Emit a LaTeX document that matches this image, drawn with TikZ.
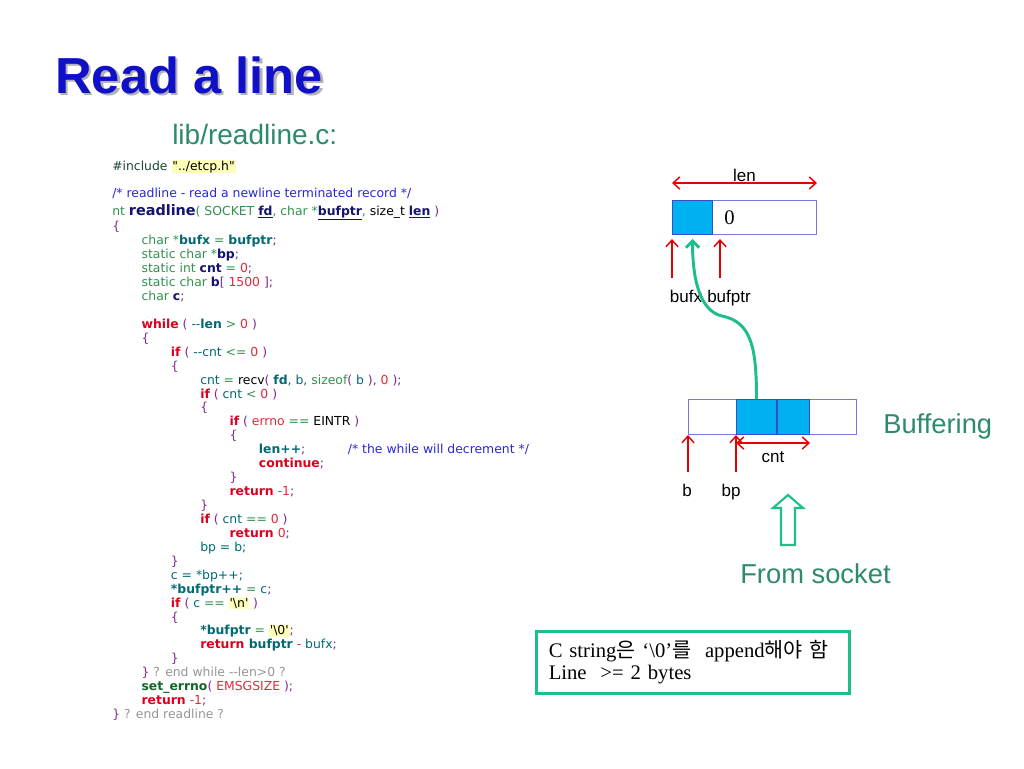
\documentclass[tikz,border=0pt]{standalone}
\usepackage{fontspec}
\usetikzlibrary{positioning, arrows.meta}
\newfontfamily\arialfont{Liberation Sans}
\newfontfamily\timesfont{Liberation Serif}
\newfontfamily\codefont{DejaVu Sans}
\newfontfamily\krfont{Noto Sans CJK KR}

\definecolor{titleblue}{RGB}{16,16,200}
\definecolor{libgreen}{RGB}{46,139,106}
\definecolor{cellblue}{RGB}{0,176,240}
\definecolor{celledge}{RGB}{48,80,200}
\definecolor{bufedge}{RGB}{120,120,220}
\definecolor{arrred}{RGB}{230,0,0}
\definecolor{mint}{RGB}{30,190,140}
\definecolor{ckwcol}{RGB}{220,0,30}
\definecolor{cvarcol}{RGB}{0,105,115}
\definecolor{cnavcol}{RGB}{20,20,110}
\definecolor{ctycol}{RGB}{50,145,80}
\definecolor{cpuncol}{RGB}{130,40,140}
\definecolor{cnumcol}{RGB}{230,40,60}
\definecolor{ccomcol}{RGB}{40,40,220}
\definecolor{cgraycol}{RGB}{150,150,150}
\definecolor{cincol}{RGB}{30,70,50}
\definecolor{csetcol}{RGB}{20,100,40}
\definecolor{hlyellow}{RGB}{255,255,185}

\newlength\codeindent
\setlength\codeindent{22pt}
\newcommand\lv[1]{\hspace*{#1\codeindent}}
\newcommand\ckw[1]{\textcolor{ckwcol}{\relax\bfseries #1}}
\newcommand\cvar[1]{\textcolor{cvarcol}{\relax\bfseries #1}}
\newcommand\cnav[1]{\textcolor{cnavcol}{\relax\bfseries #1}}
\newcommand\cty[1]{\textcolor{ctycol}{\relax#1}}
\newcommand\cid[1]{\textcolor{cvarcol}{\relax#1}}
\newcommand\cpun[1]{\textcolor{cpuncol}{\relax#1}}
\newcommand\cnum[1]{\textcolor{cnumcol}{\relax#1}}
\newcommand\ccom[1]{\textcolor{ccomcol}{\relax#1}}
\newcommand\cgray[1]{\textcolor{cgraycol}{\relax#1}}
\newcommand\chl[1]{{\setlength\fboxsep{0.6pt}\colorbox{hlyellow}{#1}}}

\begin{document}
\begin{tikzpicture}[x=0.75pt, y=-0.75pt,
    >={Straight Barb[length=5pt,width=9pt]},
    titletext/.style={anchor=base west, inner sep=0, font=\arialfont\bfseries\fontsize{38}{44}\selectfont},
    codeline/.style={anchor=base west, inner sep=0, font=\codefont\fontsize{9.3}{10.455}\selectfont},
    code/.style={inner sep=0, align=left, font=\codefont\fontsize{9.3}{10.455}\selectfont},
    buf/.style={draw=bufedge, line width=0.75pt, fill=white, inner sep=0},
    cell/.style={draw=celledge, line width=0.75pt, fill=cellblue, inner sep=0},
    lbl/.style={inner sep=0, font=\arialfont\fontsize{12.75}{15}\selectfont},
    greenlbl/.style={anchor=base west, inner sep=0, text=libgreen, font=\arialfont\fontsize{20.5}{24}\selectfont},
    redarr/.style={draw=arrred, line width=1.1pt},
    greenarr/.style={draw=mint, line width=2.2pt, -{Straight Barb[length=5pt,width=10pt]}},
    hollow/.style={draw=mint, line width=1.6pt, fill=white, line join=miter},
    notebox/.style={draw=mint, line width=1.9pt, minimum width=234.75pt, minimum height=46.5pt,
      text width=216pt, inner xsep=9pt, align=left, font=\timesfont\fontsize{15.5}{16.5}\selectfont}]
\fill[white] (0,0) rectangle (1024,768);
\useasboundingbox (0,0) rectangle (1024,768);

% title
\node[titletext, text=gray!60] (titleshadow) at (57.5,95.5) {Read a line};
\node[titletext, text=titleblue] (title) at (55,93) {Read a line};
\node[anchor=base west, inner sep=0, text=libgreen, font=\arialfont\fontsize{21}{24}\selectfont] (libname) at (172,144) {lib/readline.c:};

% source listing
\node[codeline] (inc) at (112,170) {\textcolor{cincol}{\#include} \chl{"../etcp.h"}};
\node[codeline] (cmt) at (112,197) {\ccom{/* readline - read a newline terminated record */}};
\node[codeline] (sig) at (112,215) {\cty{nt }\cnav{\fontsize{10.8}{12}\selectfont readline}\cty{( SOCKET }\cnav{\underline{fd}}\cty{, char *}\cnav{\underline{bufptr}}\cty{, }size\_t \cnav{\underline{len}}\cpun{ )}};
\node[code, anchor=north west] (body) at (112,220.7) {\strut\cpun{\{}\\
\lv1\cty{char *}\cvar{bufx}\cty{ = }\cvar{bufptr}\cpun{;}\\
\lv1\cty{static char *}\cnav{bp}\cpun{;}\\
\lv1\cty{static int }\cnav{cnt}\cty{ = }\cnum{0}\cpun{;}\\
\lv1\cty{static char }\cnav{b}\cpun{[ }\cnum{1500}\cpun{ ];}\\
\lv1\cty{char }\cnav{c}\cpun{;}\\[10.45pt]
\lv1\ckw{while}\cpun{ ( }\cid{-{}-}\cvar{len}\cty{ > }\cnum{0}\cpun{ )}\\
\lv1\cpun{\{}\\
\lv2\ckw{if}\cpun{ ( }\cid{-{}-cnt}\cty{ <= }\cnum{0}\cpun{ )}\\
\lv2\cpun{\{}\\
\lv3\cid{cnt}\cty{ = }recv\cpun{( }\cvar{fd}\cid{, b, }\cty{sizeof}\cpun{( }\cid{b}\cpun{ ), }\cnum{0}\cpun{ );}\\
\lv3\ckw{if}\cpun{ ( }\cid{cnt}\cty{ < }\cnum{0}\cpun{ )}\\
\lv3\cpun{\{}\\
\lv4\ckw{if}\cpun{ ( }\cnum{errno}\cty{ == }EINTR\cpun{ )}\\
\lv4\cpun{\{}\\
\lv5\makebox[66.75pt][l]{\cvar{len++}\cpun{;}}\ccom{/* the while will decrement */}\\
\lv5\ckw{continue}\cpun{;}\\
\lv4\cpun{\}}\\
\lv4\ckw{return}\cnum{ -1}\cpun{;}\\
\lv3\cpun{\}}\\
\lv3\ckw{if}\cpun{ ( }\cid{cnt}\cty{ == }\cnum{0}\cpun{ )}\\
\lv4\ckw{return}\cnum{ 0}\cpun{;}\\
\lv3\cid{bp = b;}\\
\lv2\cpun{\}}\\
\lv2\cid{c = *bp++;}\\
\lv2\cvar{*bufptr++}\cty{ = }\cid{c}\cpun{;}\\
\lv2\ckw{if}\cpun{ ( }\cid{c}\cty{ == }\chl{'\textbackslash n'}\cpun{ )}\\
\lv2\cpun{\{}\\
\lv3\cvar{*bufptr}\cty{ = }\chl{'\textbackslash 0'}\cpun{;}\\
\lv3\ckw{return }\cvar{bufptr}\cnum{ - }\cid{bufx}\cpun{;}\\
\lv2\cpun{\}}\\
\lv1\cpun{\}}\cgray{ ? end while -{}-len>0 ?}\\
\lv1\textcolor{csetcol}{\bfseries set\_errno}\cpun{( }\cnum{EMSGSIZE}\cpun{ );}\\
\lv1\ckw{return}\cnum{ -1}\cpun{;}\\
\cpun{\}}\cgray{ ? end readline ?}};

% line buffer
\node[buf, minimum width=108pt, minimum height=25.5pt, anchor=north west] (linebuf) at (672,200) {};
\node[cell, minimum width=30pt, minimum height=25.5pt, anchor=north west] (linecell) at (linebuf.north west) {};
\node[right=8.25pt of linecell, inner sep=0, font=\timesfont\fontsize{15.5}{18}\selectfont] (zero) {0};
\draw[redarr, <->] ([yshift=12.75pt]linebuf.north west) -- ([yshift=12.75pt]linebuf.north east)
    node[lbl, midway, above=0.5pt] (lenlabel) {len};
\coordinate (bufxtail) at (672,278);
\coordinate (bufptrtail) at (720,278);
\draw[redarr, ->, shorten >=3pt] (bufxtail) -- (linebuf.south west);
\draw[redarr, ->, shorten >=3pt] (bufptrtail) -- (bufptrtail |- linebuf.south);
\node[lbl, anchor=base] (bufxlabel) at (686,302) {bufx};
\node[lbl, anchor=base] (bufptrlabel) at (729,302) {bufptr};

% socket buffer
\node[buf, minimum width=126pt, minimum height=26.25pt, anchor=north west] (sockbuf) at (688,399) {};
\node[cell, minimum width=30pt, minimum height=26.25pt, anchor=north west] (cella) at ([xshift=36pt]sockbuf.north west) {};
\node[cell, minimum width=24pt, minimum height=26.25pt, anchor=north west] (cellb) at (cella.north east) {};
\node[greenlbl] (buffering) at (883,433) {Buffering};
\coordinate (btail) at (688,472);
\coordinate (bptail) at (736,472);
\draw[redarr, ->] (btail) -- (sockbuf.south west);
\draw[redarr, ->] (bptail) -- (cella.south west);
\draw[redarr, <->] ([yshift=-6pt]cella.south west) -- ([yshift=-6pt]cellb.south east);
\node[lbl, anchor=base] (cntlabel) at (773,462) {cnt};
\node[lbl, anchor=base] (blabel) at (687,496) {b};
\node[lbl, anchor=base] (bplabel) at (731,496) {bp};

% copy to line
\coordinate (bend) at (722,316);
\draw[greenarr, shorten >=3pt] (cella.north) .. controls +(0,-50) and +(30,6) .. (bend)
    .. controls +(-22,-5) and +(0,45) .. (linecell.south);

% from socket
\draw[hollow] (788,495) -- (803,508) -- (795,508) -- (795,545) -- (781,545) -- (781,508) -- (773,508) -- cycle;
\node[greenlbl] (fromsocket) at (740,583) {From socket};

\node[notebox, anchor=north west] (note) at (535,630) {C string{\krfont 은} ‘\textbackslash 0’{\krfont 를}\ \ append{\krfont 해야 함}\\Line\ \ >= 2 bytes};
\end{tikzpicture}
\end{document}
